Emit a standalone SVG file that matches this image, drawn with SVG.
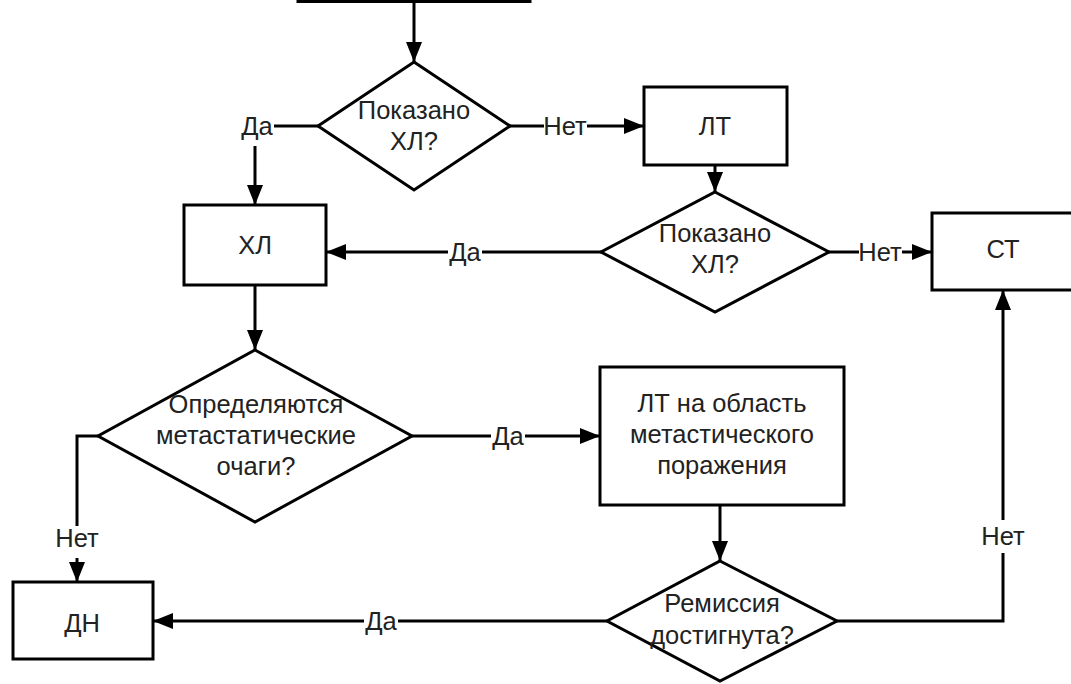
<svg xmlns="http://www.w3.org/2000/svg" width="1071" height="684" viewBox="0 0 1071 684">
<style>
.box{fill:#fff;stroke:#000;stroke-width:3}
.ln{fill:none;stroke:#000;stroke-width:3}
.t{font-family:"Liberation Sans",Arial,sans-serif;font-size:25.5px;fill:#222;text-anchor:middle}
</style>
<defs>
<marker id="ah" viewBox="0 0 20 16" refX="20" refY="8" markerWidth="20" markerHeight="16" markerUnits="userSpaceOnUse" orient="auto">
<path d="M0,0 L20,8 L0,16 Z" fill="#000"/>
</marker>
</defs>
<rect width="1071" height="684" fill="#fff"/>
<g id="start"><rect class="box" x="298" y="-40" width="232" height="41.5"/></g>
<g id="d1"><polygon class="box" points="414,62 510,126 414,190 318,126"/>
<text class="t" x="414" y="119">Показано</text><text class="t" x="414" y="150">ХЛ?</text></g>
<g id="lt"><rect class="box" x="644" y="87" width="143" height="78"/><text class="t" x="715" y="135">ЛТ</text></g>
<g id="hl"><rect class="box" x="184" y="205" width="142" height="80"/><text class="t" x="255" y="254">ХЛ</text></g>
<g id="d2"><polygon class="box" points="715,192 829,252 715,312 601,252"/>
<text class="t" x="715" y="242">Показано</text><text class="t" x="715" y="273">ХЛ?</text></g>
<g id="st"><rect class="box" x="932" y="213" width="150" height="77"/><text class="t" x="1003" y="258">СТ</text></g>
<g id="d3"><polygon class="box" points="255,350 412,436 255,522 98,436"/>
<text class="t" x="256" y="413">Определяются</text><text class="t" x="256" y="444">метастатические</text><text class="t" x="256" y="475">очаги?</text></g>
<g id="lt2"><rect class="box" x="600" y="367" width="244" height="138"/>
<text class="t" x="722" y="412">ЛТ на область</text><text class="t" x="722" y="443">метастического</text><text class="t" x="722" y="474">поражения</text></g>
<g id="d4"><polygon class="box" points="720,561 837,621 720,681 607,621"/>
<text class="t" x="722" y="612">Ремиссия</text><text class="t" x="722" y="644">достигнута?</text></g>
<g id="dn"><rect class="box" x="13" y="582" width="140" height="77"/><text class="t" x="82" y="632">ДН</text></g>
<g id="connectors">
<line class="ln" x1="414" y1="2" x2="414" y2="62" marker-end="url(#ah)"/>
<polyline class="ln" points="318,126 274,126"/>
<text class="t" x="257" y="135">Да</text>
<line class="ln" x1="255" y1="146" x2="255" y2="205" marker-end="url(#ah)"/>
<line class="ln" x1="510" y1="126" x2="544" y2="126"/>
<text class="t" x="565" y="135">Нет</text>
<line class="ln" x1="587" y1="126" x2="644" y2="126" marker-end="url(#ah)"/>
<line class="ln" x1="715" y1="165" x2="715" y2="192" marker-end="url(#ah)"/>
<line class="ln" x1="601" y1="252" x2="482" y2="252"/>
<text class="t" x="465" y="261">Да</text>
<line class="ln" x1="448" y1="252" x2="326" y2="252" marker-end="url(#ah)"/>
<line class="ln" x1="829" y1="252" x2="859" y2="252"/>
<text class="t" x="880" y="261">Нет</text>
<line class="ln" x1="902" y1="252" x2="932" y2="252" marker-end="url(#ah)"/>
<line class="ln" x1="255" y1="285" x2="255" y2="350" marker-end="url(#ah)"/>
<line class="ln" x1="412" y1="436" x2="491" y2="436"/>
<text class="t" x="508" y="445">Да</text>
<line class="ln" x1="525" y1="436" x2="600" y2="436" marker-end="url(#ah)"/>
<line class="ln" x1="720" y1="505" x2="720" y2="561" marker-end="url(#ah)"/>
<line class="ln" x1="607" y1="621" x2="398" y2="621"/>
<text class="t" x="381" y="630">Да</text>
<line class="ln" x1="364" y1="621" x2="153" y2="621" marker-end="url(#ah)"/>
<polyline class="ln" points="98,436 77,436 77,526"/>
<text class="t" x="77" y="547">Нет</text>
<line class="ln" x1="77" y1="558" x2="77" y2="582" marker-end="url(#ah)"/>
<polyline class="ln" points="837,621 1003,621 1003,553"/>
<text class="t" x="1003" y="545">Нет</text>
<line class="ln" x1="1003" y1="520" x2="1003" y2="290" marker-end="url(#ah)"/>
</g>
</svg>
